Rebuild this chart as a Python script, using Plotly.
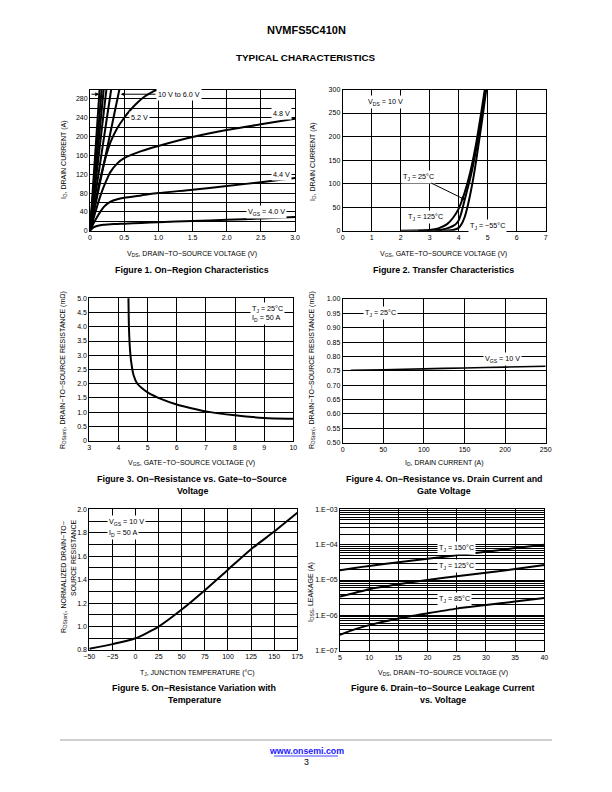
import plotly.graph_objects as go

W, H = 612, 792
FONT = "Liberation Sans, Arial, Helvetica, sans-serif"

# ---------------- Figure 1: On-Region Characteristics ----------------
f1_vds_52 = [0, 0.05, 0.1, 0.15, 0.2, 0.25, 0.3, 0.4, 0.5, 0.6, 0.7, 0.8, 0.9, 1.0]
f1_id_52 = [0, 40, 75, 110, 140, 166, 188, 218, 240, 258, 273, 285, 294, 301]
f1_vds = [0, 0.05, 0.1, 0.15, 0.2, 0.25, 0.3, 0.4, 0.5, 0.75, 1.0, 1.5, 2.0, 2.5, 3.0]
f1_id_48 = [0, 25, 50, 73, 93, 110, 125, 143, 154, 169, 180, 199, 214, 226, 238]
f1_id_44 = [0, 15, 28, 40, 50, 57, 62, 67, 70, 75, 80, 87, 95, 103, 112]
f1_id_40 = [0, 7, 10, 11.5, 12.5, 13.2, 13.8, 14.5, 15, 16.5, 18, 20.5, 23, 26, 29]
f1_lin_vgs = ["10 V", "9.0 V", "8.0 V", "7.0 V", "6.5 V", "6.0 V"]
f1_lin_vds_at_300 = [0.14, 0.17, 0.20, 0.24, 0.31, 0.43]
f1_x_ticks = [0, 0.5, 1.0, 1.5, 2.0, 2.5, 3.0]
f1_x_labels = ["0", "0.5", "1.0", "1.5", "2.0", "2.5", "3.0"]
f1_y_ticks = list(range(0, 301, 20))
f1_y_labels = [str(v) if v % 40 == 0 and v < 300 else "" for v in f1_y_ticks]

# ---------------- Figure 2: Transfer Characteristics ----------------
f2_vgs_125 = [2.0, 2.5, 3.0, 3.3, 3.6, 3.8, 4.0, 4.2, 4.4, 4.6, 4.8, 4.9]
f2_id_125 = [0, 0.2, 1.5, 5, 14, 27, 47, 80, 125, 185, 260, 300]
f2_vgs_25 = [2.6, 3.0, 3.4, 3.6, 3.8, 3.9, 4.0, 4.1, 4.2, 4.3, 4.4, 4.6, 4.8, 4.93]
f2_id_25 = [0, 0.3, 2, 5, 10, 14, 22, 40, 64, 88, 112, 172, 245, 300]
f2_vgs_m55 = [3.2, 3.6, 3.8, 3.9, 4.0, 4.1, 4.2, 4.3, 4.4, 4.5, 4.6, 4.8, 4.95]
f2_id_m55 = [0, 0.5, 1.5, 3, 6, 14, 28, 50, 78, 110, 148, 232, 300]

# ---------------- Figure 3: On-Resistance vs VGS ----------------
f3_vgs = [4.34, 4.36, 4.39, 4.44, 4.52, 4.65, 4.8, 5.0, 5.5, 6.0, 6.5, 7.0, 8.0, 9.0, 10.0]
f3_rds = [5.3, 4.0, 3.3, 2.75, 2.3, 2.0, 1.85, 1.7, 1.45, 1.27, 1.14, 1.03, 0.89, 0.80, 0.77]

# ---------------- Figure 4: On-Resistance vs ID ----------------
f4_id = [10, 50, 100, 150, 200, 250]
f4_rds = [0.752, 0.754, 0.757, 0.760, 0.763, 0.766]

# ---------------- Figure 5: On-Resistance vs Temperature ----------------
f5_tj = [-50, -25, 0, 25, 50, 75, 100, 125, 150, 175]
f5_rnorm = [0.81, 0.85, 0.90, 1.00, 1.145, 1.31, 1.485, 1.66, 1.81, 1.97]
f5_x_labels = ["\u221250", "\u221225", "0", "25", "50", "75", "100", "125", "150", "175"]

# ---------------- Figure 6: Leakage ----------------
f6_vds = [5, 7.5, 10, 15, 20, 25, 30, 35, 40]
f6_idss_150 = [1.9e-5, 2.2e-5, 2.5e-5, 3.2e-5, 4.0e-5, 5.0e-5, 6.3e-5, 8.0e-5, 1.0e-4]
f6_idss_125 = [3.4e-6, 4.3e-6, 5.5e-6, 7.6e-6, 1.0e-5, 1.28e-5, 1.6e-5, 2.05e-5, 2.65e-5]
f6_idss_85 = [2.8e-7, 4.0e-7, 5.3e-7, 8.2e-7, 1.14e-6, 1.55e-6, 1.95e-6, 2.45e-6, 3.1e-6]
f6_y_ticks = [1e-7, 1e-6, 1e-5, 1e-4, 1e-3]
f6_y_labels = ["1.E\u221207", "1.E\u221206", "1.E\u221205", "1.E\u221204", "1.E\u221203"]

fig = go.Figure()
BLK = "black"
CW = 2.0


def add_line(x, y, ax, color=BLK, width=CW, shape="spline"):
    fig.add_trace(go.Scatter(x=x, y=y, mode="lines", xaxis="x" + ax, yaxis="y" + ax,
                             line=dict(color=color, width=width, shape=shape, smoothing=0.6),
                             showlegend=False, hoverinfo="skip"))


# Figure 1 traces
for v300 in f1_lin_vds_at_300:
    add_line([0, v300], [0, 300], "", shape="linear")
add_line(f1_vds_52, f1_id_52, "")
add_line(f1_vds, f1_id_48, "")
add_line(f1_vds, f1_id_44, "")
add_line(f1_vds, f1_id_40, "")
# Figure 2
add_line(f2_vgs_125, f2_id_125, "2")
add_line(f2_vgs_25, f2_id_25, "2")
add_line(f2_vgs_m55, f2_id_m55, "2")
# Figure 3
add_line(f3_vgs, f3_rds, "3")
# Figure 4
add_line(f4_id, f4_rds, "4", width=1.6)
# Figure 5
add_line(f5_tj, f5_rnorm, "5")
# Figure 6
add_line(f6_vds, f6_idss_150, "6")
add_line(f6_vds, f6_idss_125, "6")
add_line(f6_vds, f6_idss_85, "6")


def dom_x(a, b):
    return [a / W, b / W]


def dom_y(top, bottom):
    return [1 - bottom / H, 1 - top / H]


TICKFONT = dict(family=FONT, size=7, color="black")


def axis(domain, rng, tickvals, ticktext, anchor, typ="linear", minor=None):
    d = dict(domain=domain, range=rng, tickmode="array", tickvals=tickvals, ticktext=ticktext,
             showline=True, mirror=True, linecolor=BLK, linewidth=1,
             showgrid=True, gridcolor=BLK, gridwidth=1, zeroline=False,
             ticks="", tickfont=TICKFONT, anchor=anchor, type=typ, fixedrange=True,
             automargin=False)
    if minor:
        d["minor"] = minor
    return d


lay = {}
# Figure 1
lay["xaxis"] = axis(dom_x(90, 295), [0, 3], f1_x_ticks, f1_x_labels, "y")
lay["yaxis"] = axis(dom_y(89.5, 230.7), [0, 300], f1_y_ticks, f1_y_labels, "x")
# Figure 2
lay["xaxis2"] = axis(dom_x(342.7, 545.7), [0, 7], list(range(8)), [str(i) for i in range(8)], "y2")
lay["yaxis2"] = axis(dom_y(89.5, 230.7), [0, 300], list(range(0, 301, 50)),
                     [str(v) for v in range(0, 301, 50)], "x2")
# Figure 3
f3_yt = [i * 0.5 for i in range(11)]
lay["xaxis3"] = axis(dom_x(89.3, 293.3), [3, 10], list(range(3, 11)), [str(i) for i in range(3, 11)], "y3")
lay["yaxis3"] = axis(dom_y(298.3, 440.7), [0, 5], f3_yt, ["0"] + ["%.1f" % v for v in f3_yt[1:]], "x3")
# Figure 4
f4_yt = [0.5 + 0.05 * i for i in range(11)]
lay["xaxis4"] = axis(dom_x(342.7, 545.7), [0, 250], list(range(0, 251, 50)),
                     [str(v) for v in range(0, 251, 50)], "y4")
lay["yaxis4"] = axis(dom_y(299, 442.7), [0.5, 1.0], f4_yt, ["%.2f" % v for v in f4_yt], "x4")
# Figure 5
f5_yt = [round(0.8 + 0.1 * i, 2) for i in range(13)]
f5_yl = ["%.1f" % v if round(v * 10) % 2 == 0 else "" for v in f5_yt]
lay["xaxis5"] = axis(dom_x(89.3, 297.3), [-50, 175], list(range(-50, 176, 25)), f5_x_labels, "y5")
lay["yaxis5"] = axis(dom_y(509.3, 650), [0.8, 2.0], f5_yt, f5_yl, "x5")
# Figure 6
minor_vals = [m * 10 ** e for e in range(-7, -3) for m in range(2, 10)]
lay["xaxis6"] = axis(dom_x(340, 544.3), [5, 40], list(range(5, 41, 5)), [str(v) for v in range(5, 41, 5)], "y6")
lay["yaxis6"] = axis(dom_y(509.3, 650.7), [-7, -3], f6_y_ticks, f6_y_labels, "x6", typ="log",
                     minor=dict(tickmode="array", tickvals=minor_vals, showgrid=True,
                                gridcolor=BLK, gridwidth=1, ticks=""))

ann = []
shapes = []
AX_T = 7.0
CAP = 8.9
LBL = 7.2


def T(text, x, y, size=AX_T, bold=False, angle=0, color="black", xanchor="center"):
    if bold:
        text = "<b>" + text + "</b>"
    ann.append(dict(text=text, x=x / W, y=1 - y / H, xref="paper", yref="paper", showarrow=False,
                    font=dict(family=FONT, size=size, color=color), textangle=angle,
                    xanchor=xanchor, yanchor="middle"))


def L(text, x, y, ax, size=LBL, xanchor="center", bg="white", align="left"):
    ann.append(dict(text=text, x=x, y=y, xref="x" + ax, yref="y" + ax, showarrow=False,
                    font=dict(family=FONT, size=size, color="black"), bgcolor=bg,
                    xanchor=xanchor, yanchor="middle", borderpad=1, align=align))


# header
T("NVMFS5C410N", 306, 30, size=11, bold=True)
T("TYPICAL CHARACTERISTICS", 306, 58, size=9.9, bold=True)

# Fig 1 texts
T("V<sub>DS</sub>, DRAIN\u2212TO\u2212SOURCE VOLTAGE (V)", 192, 254)
T("I<sub>D</sub>, DRAIN CURRENT (A)", 64, 160, angle=-90)
T("Figure 1. On\u2212Region Characteristics", 192, 270, size=CAP, bold=True)
L("10 V to 6.0 V", 1.30, 290, "")
L("5.2 V", 0.72, 240, "")
L("4.8 V", 2.80, 250, "")
L("4.4 V", 2.80, 120, "")
L("V<sub>GS</sub> = 4.0 V", 2.59, 40, "")
# arrows of 10 V to 6.0 V
ann.append(dict(x=0.135, y=290, ax=0.0, ay=290, xref="x", yref="y", axref="x", ayref="y", text="",
                showarrow=True, arrowhead=2, arrowsize=0.8, arrowwidth=1, arrowcolor=BLK))
ann.append(dict(x=0.45, y=290, ax=0.98, ay=290, xref="x", yref="y", axref="x", ayref="y", text="",
                showarrow=True, arrowhead=2, arrowsize=0.8, arrowwidth=1, arrowcolor=BLK))

# Fig 2 texts
T("V<sub>GS</sub>, GATE\u2212TO\u2212SOURCE VOLTAGE (V)", 443, 254)
T("I<sub>D</sub>, DRAIN CURRENT (A)", 313, 162, angle=-90)
T("Figure 2. Transfer Characteristics", 443, 270, size=CAP, bold=True)
L("V<sub>DS</sub> = 10 V", 1.49, 273, "2")
L("T<sub>J</sub> = 125\u00b0C", 2.84, 29, "2")
L("T<sub>J</sub> = \u221255\u00b0C", 4.98, 10, "2")
ann.append(dict(text="T<sub>J</sub> = 25\u00b0C", x=4.22, y=66, xref="x2", yref="y2", ax=-47, ay=-23,
                showarrow=True, arrowhead=2, arrowsize=0.8, arrowwidth=1, arrowcolor=BLK,
                font=dict(family=FONT, size=LBL, color="black"), bgcolor="white"))

# Fig 3 texts
T("V<sub>GS</sub>, GATE\u2212TO\u2212SOURCE VOLTAGE (V)", 191, 463)
T("R<sub>DS(on)</sub>, DRAIN\u2212TO\u2212SOURCE RESISTANCE (m\u03a9)", 63, 370, angle=-90)
T("Figure 3. On\u2212Resistance vs. Gate\u2212to\u2212Source", 192, 479, size=CAP, bold=True)
T("Voltage", 192, 491, size=CAP, bold=True)
L("T<sub>J</sub> = 25\u00b0C<br>I<sub>D</sub> = 50 A", 8.5, 4.45, "3", xanchor="left")

# Fig 4 texts
T("I<sub>D</sub>, DRAIN CURRENT (A)", 444, 463)
T("R<sub>DS(on)</sub>, DRAIN\u2212TO\u2212SOURCE RESISTANCE (m\u03a9)", 312, 370, angle=-90)
T("Figure 4. On\u2212Resistance vs. Drain Current and", 444, 479, size=CAP, bold=True)
T("Gate Voltage", 444, 491, size=CAP, bold=True)
L("T<sub>J</sub> = 25\u00b0C", 46, 0.95, "4")
L("V<sub>GS</sub> = 10 V", 197, 0.79, "4")

# Fig 5 texts
T("T<sub>J</sub>, JUNCTION TEMPERATURE (\u00b0C)", 197, 673)
T("R<sub>DS(on)</sub>, NORMALIZED DRAIN\u2212TO\u2212", 64, 577, angle=-90)
T("SOURCE RESISTANCE", 73, 558, angle=-90)
T("Figure 5. On\u2212Resistance Variation with", 194, 688, size=CAP, bold=True)
T("Temperature", 194, 700, size=CAP, bold=True)
L("V<sub>GS</sub> = 10 V", -31, 1.89, "5", xanchor="left")
L("I<sub>D</sub> = 50 A", -31, 1.80, "5", xanchor="left")

# Fig 6 texts
T("V<sub>DS</sub>, DRAIN\u2212TO\u2212SOURCE VOLTAGE (V)", 443, 673)
T("I<sub>DSS</sub>, LEAKAGE (A)", 311, 592, angle=-90)
T("Figure 6. Drain\u2212to\u2212Source Leakage Current", 443, 688, size=CAP, bold=True)
T("vs. Voltage", 443, 700, size=CAP, bold=True)
L("T<sub>J</sub> = 150\u00b0C", 25.0, -4.097, "6")
L("T<sub>J</sub> = 125\u00b0C", 25.0, -4.602, "6")
L("T<sub>J</sub> = 85\u00b0C", 24.7, -5.54, "6")

# footer
shapes.append(dict(type="line", xref="paper", yref="paper", x0=60 / W, x1=552 / W,
                   y0=1 - 740 / H, y1=1 - 740 / H, line=dict(color="#c0c0c0", width=1.5)))
T("www.onsemi.com", 306, 751, size=8.8, bold=True, color="#1a1aff")
shapes.append(dict(type="line", xref="paper", yref="paper", x0=274 / W, x1=338 / W,
                   y0=1 - 756 / H, y1=1 - 756 / H, line=dict(color="#1a1aff", width=0.8)))
T("3", 306, 762, size=8.8)

fig.update_layout(width=W, height=H, autosize=False, margin=dict(l=0, r=0, t=0, b=0, pad=0),
                  paper_bgcolor="white", plot_bgcolor="white", showlegend=False,
                  annotations=ann, shapes=shapes, font=dict(family=FONT), **lay)

fig.write_html("out.html", config={"displayModeBar": False},
               post_script="document.body.style.margin='0';document.body.style.overflow='hidden';")
